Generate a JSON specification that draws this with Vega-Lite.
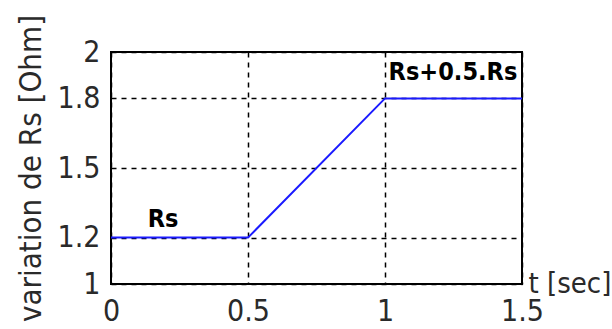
{
  "$schema": "https://vega.github.io/schema/vega-lite/v6.json",
  "autosize": {"type": "none"},
  "padding": {"left": 111, "top": 52, "right": 90, "bottom": 45},
  "width": 411,
  "height": 232,
  "background": "white",
  "config": {
    "view": {"stroke": "black", "strokeWidth": 2},
    "font": "DejaVu Sans Condensed"
  },
  "datasets": {
    "line": [
      {"t": 0, "r": 1.2},
      {"t": 0.5, "r": 1.2},
      {"t": 1.0, "r": 1.8},
      {"t": 1.5, "r": 1.8}
    ],
    "labels": [
      {"t": 0.19, "r": 1.28, "label": "Rs"},
      {"t": 1.248, "r": 1.914, "label": "Rs+0.5.Rs"}
    ]
  },
  "layer": [
    {
      "data": {"name": "line"},
      "mark": {"type": "line", "color": "#1a1aff", "strokeWidth": 2},
      "encoding": {
        "x": {
          "field": "t", "type": "quantitative",
          "scale": {"domain": [0, 1.5], "nice": false, "zero": false},
          "axis": {
            "values": [0, 0.5, 1, 1.5],
            "format": "~g",
            "domain": false,
            "ticks": false,
            "labelFont": "DejaVu Sans Condensed",
            "labelFontSize": 30,
            "labelColor": "#2a2a2a",
            "labelPadding": 12,
            "labelFlush": false,
            "grid": true,
            "gridColor": "black",
            "gridDash": [5, 5],
            "gridWidth": 1.5,
            "gridOpacity": 1,
            "title": "t [sec]",
            "titleFont": "DejaVu Sans Condensed",
            "titleFontSize": 29,
            "titleFontWeight": "normal",
            "titleColor": "#2a2a2a",
            "titleAlign": "left",
            "titleBaseline": "alphabetic",
            "titleAnchor": null,
            "titleX": 417,
            "titleY": 8
          }
        },
        "y": {
          "field": "r", "type": "quantitative",
          "scale": {"domain": [1, 2], "nice": false, "zero": false},
          "axis": {
            "values": [1, 1.2, 1.5, 1.8, 2],
            "format": "~g",
            "domain": false,
            "ticks": false,
            "labelFont": "DejaVu Sans Condensed",
            "labelFontSize": 30,
            "labelColor": "#2a2a2a",
            "labelPadding": 11,
            "labelFlush": false,
            "grid": true,
            "gridColor": "black",
            "gridDash": [5, 5],
            "gridWidth": 1.5,
            "gridOpacity": 1,
            "title": "variation de Rs [Ohm]",
            "titleFont": "DejaVu Sans Condensed",
            "titleFontSize": 31,
            "titleFontWeight": "normal",
            "titleColor": "#2a2a2a",
            "titlePadding": 10
          }
        }
      }
    },
    {
      "data": {"name": "labels"},
      "mark": {"type": "text", "font": "DejaVu Sans Condensed", "fontWeight": "bold", "fontSize": 25, "color": "black"},
      "encoding": {
        "x": {"field": "t", "type": "quantitative"},
        "y": {"field": "r", "type": "quantitative"},
        "text": {"field": "label"}
      }
    }
  ]
}
